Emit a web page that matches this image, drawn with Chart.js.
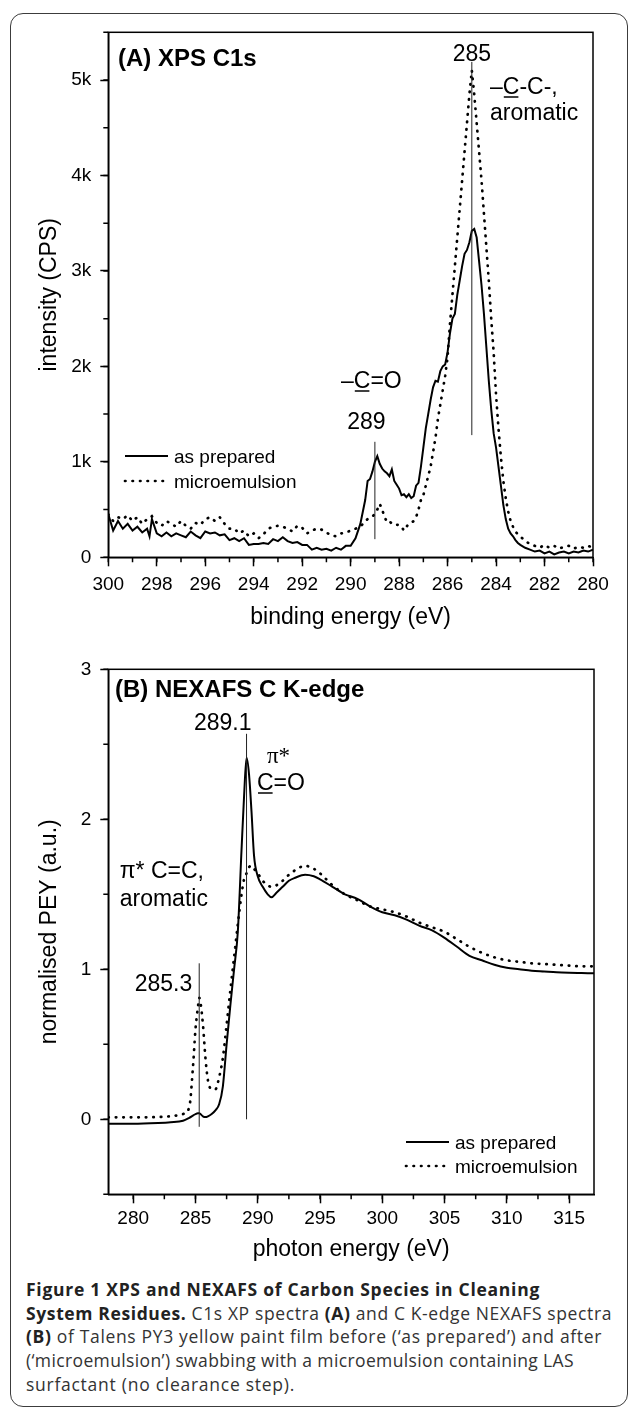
<!DOCTYPE html>
<html>
<head>
<meta charset="utf-8">
<script src="https://cdn.jsdelivr.net/npm/chart.js@4.4.1/dist/chart.umd.min.js"></script>
<style>
  html, body { margin: 0; padding: 0; background: #fff; }
  #page { position: relative; width: 630px; height: 1414px; overflow: hidden; }
  #frame { position: absolute; left: 10px; top: 13px; width: 618px; height: 1394px;
           border: 1.5px solid #3c3c3c; border-radius: 13px; box-sizing: border-box; }
  canvas { position: absolute; left: 0; }
  #xps { top: 0; }
  #nexafs { top: 640px; }
  .caption { position: absolute; left: 26px; top: 1278px;
             font-family: "Open Sans", "Noto Sans", sans-serif; font-size: 17.5px;
             line-height: 23.7px; color: #333; }
  .caption span { display: block; width: max-content; white-space: nowrap; }
  .caption b { color: #222; }
</style>
</head>
<body>
<div id="page">
  <div id="frame"></div>
  <canvas id="xps" width="630" height="640"></canvas>
  <canvas id="nexafs" width="630" height="630"></canvas>
  <div class="caption">
    <span data-w="514"><b>Figure 1 XPS and NEXAFS of Carbon Species in Cleaning</b></span>
    <span data-w="586"><b>System Residues.</b> C1s XP spectra <b>(A)</b> and C K-edge NEXAFS spectra</span>
    <span data-w="576"><b>(B)</b> of Talens PY3 yellow paint film before (‘as prepared’) and after</span>
    <span data-w="548">(‘microemulsion’) swabbing with a microemulsion containing LAS</span>
    <span data-w="269">surfactant (no clearance step).</span>
  </div>
</div>
<script>
// ---- XPS C1s (binding energy, eV / counts per second) ----
const xpsEnergy = [
  300.0, 299.8, 299.6, 299.4, 299.2, 299.0, 298.8, 298.6, 298.4, 298.3, 298.2,
  298.0, 297.8, 297.6, 297.4, 297.2, 297.0, 296.8, 296.6, 296.4, 296.2,
  296.0, 295.8, 295.6, 295.4, 295.2, 295.0, 294.8, 294.6, 294.4, 294.2,
  294.0, 293.8, 293.6, 293.4, 293.2, 293.0, 292.8, 292.6, 292.4, 292.2,
  292.0, 291.8, 291.6, 291.4, 291.2, 291.0, 290.8, 290.6, 290.4, 290.2,
  290.0, 289.8, 289.6, 289.4,
  289.3, 289.2, 289.1, 289.0, 288.9, 288.8, 288.7, 288.6, 288.5, 288.4,
  288.3, 288.2, 288.1, 288.0, 287.9, 287.8, 287.7, 287.6, 287.5, 287.4,
  287.3, 287.2, 287.1, 287.0, 286.9, 286.8, 286.7, 286.6, 286.5, 286.4,
  286.3, 286.2, 286.1, 286.0, 285.9, 285.8, 285.7, 285.6, 285.5, 285.4,
  285.3, 285.2, 285.1, 285.0, 284.9, 284.8, 284.7, 284.6, 284.5, 284.4,
  284.3, 284.2, 284.1, 284.0, 283.9, 283.8, 283.7, 283.6, 283.5, 283.4,
  283.3, 283.2, 283.1, 283.0,
  282.8, 282.6, 282.4, 282.2, 282.0, 281.8, 281.6, 281.4, 281.2, 281.0,
  280.8, 280.6, 280.4, 280.2, 280.0
];
const xpsPrepared = [
  450, 280, 380, 300, 350, 280, 320, 260, 300, 220, 400,
  250, 220, 260, 220, 250, 230, 210, 270, 230, 200,
  270, 250, 260, 230, 240, 180, 200, 170, 200, 130,
  140, 140, 150, 140, 190, 170, 210, 170, 150, 160,
  130, 130, 80, 100, 80, 90, 70, 100, 80, 120,
  120, 200, 350, 600,
  800, 820, 900, 1000, 1060, 980, 930, 900, 880, 850,
  920, 800, 760, 720, 650, 660, 630, 660, 620, 640,
  750, 780, 950, 1150, 1350, 1500, 1650, 1780, 1850, 1840,
  1950, 2000, 2020, 2150, 2350, 2500, 2550, 2750, 2900, 3050,
  3180, 3220, 3300, 3420, 3440, 3350, 3100, 2850, 2550, 2200,
  1850, 1550, 1300, 1150, 950, 750, 550, 400, 300, 250,
  220, 180, 150, 130,
  100, 80, 60, 70, 40, 60, 30, 50, 60, 40,
  60, 50, 70, 60, 80
];
const xpsMicro = [
  450, 380, 420, 400, 440, 380, 420, 350, 400, 410, 430,
  360, 330, 380, 350, 320, 380, 330, 300, 360, 340,
  400, 420, 380, 420, 350, 300, 300, 250, 280, 220,
  250, 200, 240, 300, 320, 330, 320, 300, 270, 330,
  310, 250, 280, 300, 290, 260, 230, 220, 250, 260,
  280, 300, 320, 380,
  400, 420, 430, 450, 500, 560, 500, 420, 370, 380,
  350, 350, 340, 340, 320, 280, 320, 350, 360, 380,
  420, 500, 600, 650, 750, 850, 950, 1100, 1250, 1450,
  1600, 1750, 1900, 2100, 2450, 2750, 3050, 3350, 3650, 3950,
  4250, 4550, 4850, 5100, 4850, 4550, 4250, 3950, 3600, 3250,
  2900, 2500, 2150, 1700, 1350, 1050, 800, 620, 480, 380,
  320, 270, 240, 220,
  170, 140, 120, 100, 130, 100, 120, 90, 110, 120,
  90, 110, 100, 120, 100
];
// peak markers: position (eV) and the CPS span of the marker line
const xpsPeakAt = [285, 289];
const xpsPeakFrom = [1280, 190];
const xpsPeakTo = [5190, 1210];

// ---- NEXAFS C K-edge (photon energy, eV / normalised PEY) ----
const nexEnergy = [
  278, 280, 282, 283, 284, 284.5, 284.8, 285.0, 285.2, 285.3, 285.4, 285.6,
  285.8, 286.0, 286.3, 286.6, 286.9, 287.2, 287.5, 287.8, 288.1, 288.4,
  288.7, 288.9, 289.1, 289.3, 289.5, 289.7, 290.0, 290.4, 290.8, 291.1,
  291.5, 292.0, 292.5, 293.0, 293.8, 294.5, 295.0, 296.0, 297.0, 298.0,
  299.0, 300.0, 301.0, 302.0, 303.0, 304.0, 305.0, 306.0, 307.0, 308.0,
  309.0, 310.0, 311.0, 312.0, 313.0, 314.0, 315.0, 316.0, 317.0
];
const nexPrepared = [
  -0.03, -0.03, -0.025, -0.02, -0.01, 0.01, 0.025, 0.035, 0.04, 0.04, 0.035, 0.02,
  0.015, 0.02, 0.035, 0.06, 0.1, 0.22, 0.5, 0.76, 1.0, 1.25,
  1.8, 2.15, 2.41, 2.3, 2.05, 1.76, 1.62, 1.55, 1.5, 1.48,
  1.51, 1.55, 1.59, 1.61, 1.63, 1.62, 1.6, 1.55, 1.5, 1.47,
  1.42, 1.38, 1.36, 1.33, 1.29, 1.26, 1.21, 1.15, 1.09, 1.06,
  1.03, 1.01, 1.0, 0.99, 0.985, 0.98, 0.977, 0.975, 0.973
];
const nexMicro = [
  0.013, 0.013, 0.015, 0.02, 0.035, 0.08, 0.35, 0.6, 0.75, 0.81, 0.78, 0.63,
  0.41, 0.26, 0.2, 0.2, 0.28, 0.41, 0.63, 0.86, 1.08, 1.3,
  1.5, 1.6, 1.64, 1.68, 1.69, 1.67, 1.64, 1.59, 1.56, 1.55,
  1.56, 1.59, 1.63, 1.66, 1.69, 1.67, 1.64, 1.56, 1.5, 1.46,
  1.42, 1.4, 1.38, 1.35, 1.31, 1.28, 1.25, 1.2, 1.15, 1.11,
  1.08, 1.06, 1.05, 1.04, 1.035, 1.03, 1.025, 1.02, 1.02
];
const nexPeakAt = [289.1, 285.3];
const nexPeakFrom = [0, -0.05];
const nexPeakTo = [2.57, 1.04];

const seriesNames = ['as prepared', 'microemulsion'];

// stretch each caption line to its set width
document.querySelectorAll('.caption span').forEach(sp => {
  const cur = sp.getBoundingClientRect().width;
  sp.style.letterSpacing = ((+sp.dataset.w - cur) / sp.textContent.length) + 'px';
});

Chart.defaults.font.family = '"Liberation Sans", Arial, sans-serif';
Chart.defaults.color = '#000';

function pts(xs, ys) {
  return xs.map((x, i) => ({ x: x, y: ys[i] }));
}

// every multiple of step inside [min, max]
function steps(min, max, step) {
  const out = [];
  for (let v = Math.ceil(min / step - 1e-9) * step; v <= max + 1e-9; v += step) {
    out.push(Math.round(v * 1000) / 1000);
  }
  return out;
}

function solid(label, data) {
  return { label, data, borderColor: '#000', borderWidth: 2, pointRadius: 0, tension: 0 };
}
function dotted(label, data) {
  return { label, data, borderColor: '#000', borderWidth: 2.7, borderDash: [0.5, 7],
           borderCapStyle: 'round', pointRadius: 0, tension: 0 };
}

// draws text with one character underlined (e.g. the C in C=O)
function textU(ctx, str, x, y, ul) {
  ctx.fillText(str, x, y);
  if (ul == null) return;
  const x0 = x + ctx.measureText(str.slice(0, ul)).width;
  const w = ctx.measureText(str[ul]).width;
  ctx.beginPath();
  ctx.lineWidth = 1.5;
  ctx.moveTo(x0 + 1, y + 3);
  ctx.lineTo(x0 + w - 1, y + 3);
  ctx.stroke();
}

// frame, minor ticks, peak markers, notes and legend
const decor = {
  id: 'decor',
  afterDraw(chart, args, o) {
    const { ctx, chartArea: a, scales: { x, y } } = chart;
    ctx.save();
    ctx.strokeStyle = '#000';
    ctx.fillStyle = '#000';
    ctx.lineWidth = 1.5;
    ctx.strokeRect(a.left, a.top, a.right - a.left, a.bottom - a.top);

    // minor ticks
    ctx.beginPath();
    steps(x.min, x.max, o.minorX).forEach(v => {
      const p = x.getPixelForValue(v);
      ctx.moveTo(p, a.bottom);
      ctx.lineTo(p, a.bottom + 5);
    });
    steps(y.min, y.max, o.minorY).forEach(v => {
      const p = y.getPixelForValue(v);
      ctx.moveTo(a.left, p);
      ctx.lineTo(a.left - 5, p);
    });
    ctx.stroke();

    // peak markers with their energy labels
    ctx.lineWidth = 1;
    ctx.strokeStyle = '#222';
    ctx.font = '23px "Liberation Sans", Arial, sans-serif';
    o.peaks.at.forEach((e, i) => {
      const px = x.getPixelForValue(e);
      ctx.beginPath();
      ctx.moveTo(px, y.getPixelForValue(o.peaks.from[i]));
      ctx.lineTo(px, y.getPixelForValue(o.peaks.to[i]));
      ctx.stroke();
      const lab = o.peaks.labels[i];
      ctx.textAlign = lab.align;
      ctx.fillText(String(e), px + lab.dx, lab.y);
    });

    // notes
    ctx.strokeStyle = '#000';
    ctx.textAlign = 'left';
    o.notes.forEach(n => {
      ctx.font = (n.bold ? 'bold ' : '') + n.size + 'px ' + (n.family || '"Liberation Sans", Arial, sans-serif');
      textU(ctx, n.text, n.x, n.y, n.ul);
    });

    // legend
    ctx.font = '19px "Liberation Sans", Arial, sans-serif';
    chart.data.datasets.forEach((ds, i) => {
      const ly = o.legend.y + i * o.legend.gap;
      ctx.save();
      ctx.lineWidth = ds.borderWidth;
      ctx.setLineDash(ds.borderDash || []);
      ctx.lineCap = ds.borderCapStyle || 'butt';
      ctx.beginPath();
      ctx.moveTo(o.legend.x, ly);
      ctx.lineTo(o.legend.x + 43, ly);
      ctx.stroke();
      ctx.restore();
      ctx.fillText(ds.label, o.legend.x + 49, ly + 7);
    });
    ctx.restore();
  }
};

function axisX(min, max, step, reverse, title, h, tickPad, titlePad) {
  return {
    type: 'linear', min, max, reverse,
    afterFit(s) { s.height = h; },
    afterBuildTicks(s) { s.ticks = steps(min, max, step).map(v => ({ value: v })); },
    ticks: { padding: tickPad, maxRotation: 0, autoSkip: false, color: '#000', font: { size: 19 } },
    grid: { drawOnChartArea: false, tickLength: 9, tickColor: '#000', tickWidth: 1.5 },
    border: { color: '#000', width: 1.5 },
    title: { display: true, text: title, color: '#000', font: { size: 23 },
             padding: { top: 0, bottom: titlePad } }
  };
}
function axisY(min, max, step, title, fmt) {
  return {
    min, max,
    afterFit(s) { s.width = 108.3; },
    afterBuildTicks(s) { s.ticks = steps(min, max, step).map(v => ({ value: v })); },
    ticks: { padding: 9, color: '#000', font: { size: 19 }, callback: fmt },
    grid: { drawOnChartArea: false, tickLength: 8, tickColor: '#000', tickWidth: 1.5 },
    border: { color: '#000', width: 1.5 },
    title: { display: true, text: title, color: '#000', font: { size: 23 },
             padding: { top: 36, bottom: 0 } }
  };
}

new Chart(document.getElementById('xps'), {
  type: 'line',
  data: {
    datasets: [
      solid(seriesNames[0], pts(xpsEnergy, xpsPrepared)),
      dotted(seriesNames[1], pts(xpsEnergy, xpsMicro))
    ]
  },
  options: {
    responsive: false,
    animation: false,
    layout: { padding: { top: 32.3, right: 37, left: 0, bottom: 0 } },
    plugins: {
      legend: { display: false },
      tooltip: { enabled: false },
      decor: {
        minorX: 1, minorY: 500,
        peaks: {
          at: xpsPeakAt, from: xpsPeakFrom, to: xpsPeakTo,
          labels: [{ dx: 0, y: 61, align: 'center' }, { dx: -8.5, y: 428.5, align: 'center' }]
        },
        notes: [
          { text: '(A) XPS C1s', x: 118, y: 65.5, size: 24, bold: true },
          { text: '\u2013C-C-,', x: 490, y: 94, size: 23, ul: 1 },
          { text: 'aromatic', x: 490, y: 119.5, size: 23 },
          { text: '\u2013C=O', x: 341, y: 388, size: 23, ul: 1 }
        ],
        legend: { x: 125, y: 456, gap: 25 }
      }
    },
    scales: {
      x: axisX(280, 300, 2, true, 'binding energy (eV)', 82.7, 7, 8.2),
      y: axisY(0, 5500, 1000, 'intensity (CPS)', v => v === 0 ? '0' : (v / 1000) + 'k')
    }
  },
  plugins: [decor]
});

new Chart(document.getElementById('nexafs'), {
  type: 'line',
  data: {
    datasets: [
      Object.assign(solid(seriesNames[0], pts(nexEnergy, nexPrepared)), { cubicInterpolationMode: 'monotone' }),
      Object.assign(dotted(seriesNames[1], pts(nexEnergy, nexMicro)), { cubicInterpolationMode: 'monotone' })
    ]
  },
  options: {
    responsive: false,
    animation: false,
    layout: { padding: { top: 29.3, right: 36, left: 0, bottom: 0 } },
    plugins: {
      legend: { display: false },
      tooltip: { enabled: false },
      decor: {
        minorX: 2.5, minorY: 0.5,
        peaks: {
          at: nexPeakAt, from: nexPeakFrom, to: nexPeakTo,
          labels: [{ dx: 5, y: 89.5, align: 'right' }, { dx: -7, y: 350.5, align: 'right' }]
        },
        notes: [
          { text: '(B) NEXAFS C K-edge', x: 115, y: 56.7, size: 24, bold: true },
          { text: '\u03c0*', x: 267, y: 122.5, size: 23, family: '"Liberation Serif", serif' },
          { text: 'C=O', x: 257, y: 150, size: 23, ul: 0 },
          { text: '\u03c0* C=C,', x: 119.7, y: 238.3, size: 23 },
          { text: 'aromatic', x: 119.7, y: 266, size: 23 }
        ],
        legend: { x: 406, y: 502, gap: 24 }
      }
    },
    scales: {
      x: axisX(278, 317, 5, false, 'photon energy (eV)', 75.7, 3.6, 6.2),
      y: axisY(-0.5, 3, 1, 'normalised PEY (a.u.)', v => String(v))
    }
  },
  plugins: [decor]
});
</script>
</body>
</html>
